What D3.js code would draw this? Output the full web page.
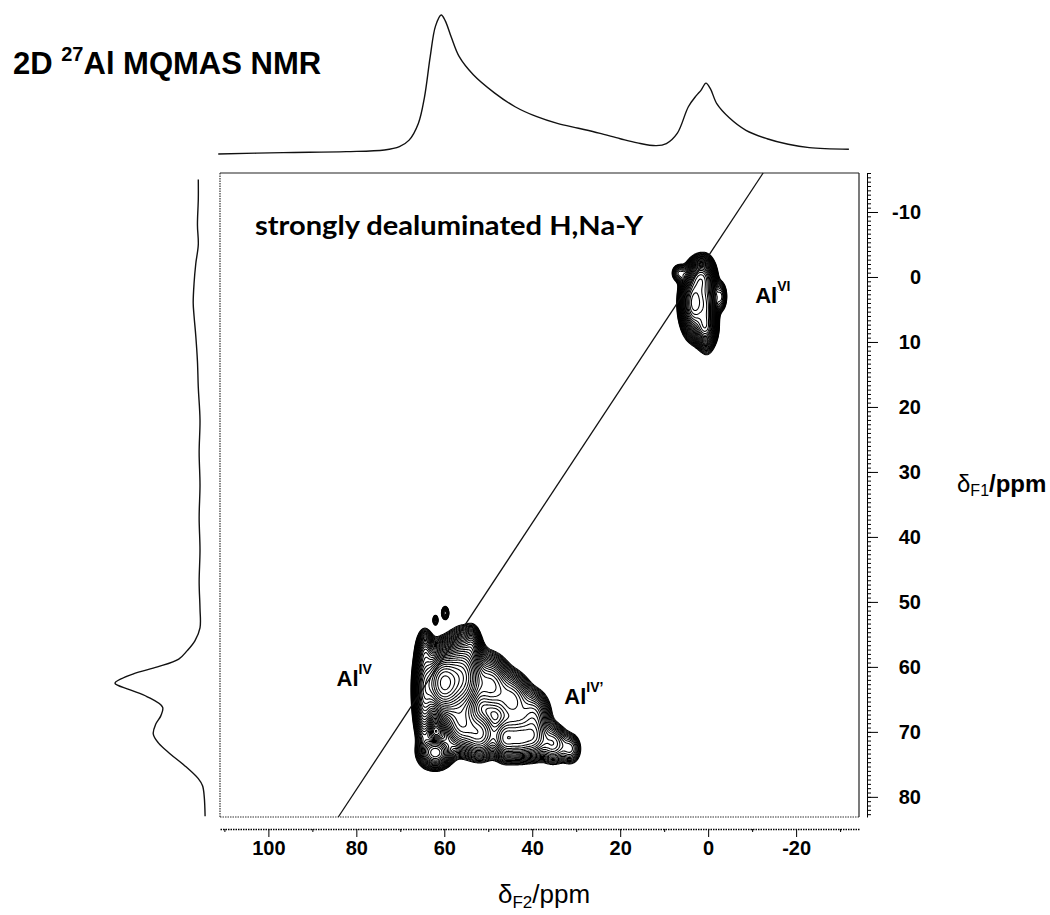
<!DOCTYPE html>
<html>
<head>
<meta charset="utf-8">
<script src="https://cdnjs.cloudflare.com/ajax/libs/d3/7.8.5/d3.min.js"></script>
<style>
  body { margin: 0; background: #fff; }
  svg { display: block; font-family: "Liberation Sans", Arial, sans-serif; }
</style>
</head>
<body>
<svg id="chart" width="1050" height="915"></svg>
<script>
// ---- data ----

// F2 projection (top trace): chemical shift (ppm) and relative intensity
var topPpm = [111.4, 96.6, 82.3, 73.6, 70.2, 68.0, 65.9, 64.5, 63.2, 62.0, 60.7, 59.8, 58.4, 56.6,
              53.4, 48.6, 43.9, 39.1, 34.3, 29.5, 24.8, 20.0, 16.1, 11.8, 9.5, 7.0, 4.5, 2.7, 1.6,
              0.5, -0.5, -2.0, -4.8, -8.6, -13.4, -18.2, -23.0, -32.0];
var topInt = [0, 0.01, 0.017, 0.029, 0.053, 0.10, 0.22, 0.41, 0.70, 0.92, 1.0, 0.96, 0.84, 0.70,
              0.57, 0.44, 0.34, 0.27, 0.22, 0.185, 0.15, 0.11, 0.08, 0.06, 0.075, 0.15, 0.34, 0.42, 0.46,
              0.51, 0.47, 0.36, 0.26, 0.17, 0.11, 0.07, 0.046, 0.034];

// F1 projection (left trace)
var leftPpm = [-15, -12, -8, -5, -2, 1, 4, 6, 9, 13, 17, 22, 27, 32, 37, 42, 47, 51, 54, 56,
               57.5, 58.8, 60.0, 61.1, 62.5, 63.5, 64.6, 66.2, 67.5, 68.8, 70.3, 71.7, 73.4, 75.2,
               77.2, 78.3, 80.0, 83.0];
var leftInt = [0.02, 0.02, 0.03, 0.02, 0.05, 0.07, 0.08, 0.07, 0.05, 0.03, 0.02, 0.0, 0.01, 0.0,
               0.01, 0.0, 0.01, 0.0, 0.0, 0.06, 0.15, 0.25, 0.5, 0.79, 1.0, 0.83, 0.62, 0.44, 0.46,
               0.52, 0.55, 0.49, 0.35, 0.18, 0.02, -0.03, -0.05, -0.06];

// 2D peak components (F2 ppm, F1 ppm, width F2, width F1, amplitude)
var peakName = ["IV main", "IV second", "IV left ridge", "IV stair1", "IV stair2", "IV stair3",
                "IV' a", "IV' b", "IV' c", "IV' d", "IV' e", "IV' f", "IV' g", "IV low-left",
                "IV spike", "IV top-left", "island1", "island2",
                "VI main", "VI right", "VI upper", "VI lower", "VI left lobe", "VI right lobe"];
var peakF2  = [60.2, 55.7, 64.6, 49.5, 44.5, 39.5, 56.3, 51.8, 46.1, 43.0, 39.8, 35.2, 31.2, 62.0,
               53.6, 64.3, 62.0, 59.8, 3.2, 0.3, 1.6, 0.8, 6.6, -2.9];
var peakF1  = [62.5, 61.5, 64.0, 62.8, 65.2, 67.3, 68.8, 70.3, 71.0, 71.0, 70.9, 71.8, 72.6, 73.2,
               56.5, 57.5, 52.8, 51.7, 4.0, 4.6, 0.0, 8.0, -0.6, 3.0];
var peakWF2 = [2.2, 2.2, 1.2, 2.3, 2.3, 2.0, 2.2, 2.2, 1.6, 1.6, 1.8, 1.8, 1.4, 2.0,
               1.0, 1.0, 0.4, 0.5, 1.5, 1.2, 1.5, 1.3, 1.0, 0.8];
var peakWF1 = [2.5, 3.0, 3.8, 2.4, 2.3, 2.0, 2.2, 2.0, 1.8, 1.8, 1.8, 1.7, 1.4, 1.3,
               1.5, 1.5, 0.5, 0.6, 2.4, 3.0, 1.5, 1.3, 0.8, 1.3];
var peakAmp = [1.0, 0.55, 0.3, 0.18, 0.14, 0.11, 0.22, 0.2, 0.19, 0.16, 0.16, 0.1, 0.06, 0.2,
               0.08, 0.1, 0.05, 0.07, 0.55, 0.3, 0.3, 0.2, 0.06, 0.07];

// diagonal (isotropic shift) line endpoints
var diagF2 = [84.1, -12.5];
var diagF1 = [83.1, -16.0];

// axis ticks
var f2Ticks = [100, 80, 60, 40, 20, 0, -20];
var f2Minor = [110, 90, 70, 50, 30, 10, -10, -30];
var f1Ticks = [-10, 0, 10, 20, 30, 40, 50, 60, 70, 80];

// labels
var titleText = ["2D ", "27", "Al MQMAS NMR"];
var sampleText = "strongly dealuminated H,Na-Y";
var siteLabels = [
  {base: "Al", sup: "IV",  f2: 84.5, f1: 62.9},
  {base: "Al", sup: "IV\u2019", f2: 32.7, f1: 65.7},
  {base: "Al", sup: "VI",  f2: -10.7, f1: 4.0}
];

// ---- layout ----
var svg = d3.select("#chart");
var frame = {left: 220, right: 859, top: 173, bottom: 817};

var x = d3.scaleLinear().domain([111, -34.3]).range([frame.left, frame.right]);
var y = d3.scaleLinear().domain([-16, 83.1]).range([frame.top, frame.bottom]);
var topY = d3.scaleLinear().domain([0, 1]).range([154, 15]);
var leftX = d3.scaleLinear().domain([0, 1]).range([200, 115]);

// ---- top projection ----
svg.append("path")
   .datum(d3.range(topPpm.length))
   .attr("d", d3.line().curve(d3.curveCatmullRom)
      .x(function(i) { return x(topPpm[i]); })
      .y(function(i) { return topY(topInt[i]); }))
   .attr("fill", "none")
   .attr("stroke", "#111")
   .attr("stroke-width", 1.4);

// ---- left projection ----
svg.append("path")
   .datum(d3.range(leftPpm.length))
   .attr("d", d3.line().curve(d3.curveCatmullRom)
      .x(function(i) { return leftX(leftInt[i]); })
      .y(function(i) { return y(leftPpm[i]); }))
   .attr("fill", "none")
   .attr("stroke", "#111")
   .attr("stroke-width", 1.4);

// ---- frame ----
svg.append("line").attr("x1", frame.left).attr("x2", frame.right)
   .attr("y1", frame.top).attr("y2", frame.top)
   .attr("stroke", "#222").attr("stroke-width", 1.2);
svg.append("line").attr("x1", frame.right).attr("x2", frame.right)
   .attr("y1", frame.top).attr("y2", frame.bottom)
   .attr("stroke", "#222").attr("stroke-width", 1.2);
svg.append("line").attr("x1", frame.left).attr("x2", frame.left)
   .attr("y1", frame.top).attr("y2", frame.bottom)
   .attr("stroke", "#333").attr("stroke-width", 1.2).attr("stroke-dasharray", "1.5,1");
svg.append("line").attr("x1", frame.left).attr("x2", frame.right)
   .attr("y1", frame.bottom).attr("y2", frame.bottom)
   .attr("stroke", "#333").attr("stroke-width", 1.2).attr("stroke-dasharray", "1.5,1");

// ---- contour field ----
var step = 0.2;
var nx = Math.round((x.domain()[0] - x.domain()[1]) / step) + 1;
var ny = Math.round((y.domain()[1] - y.domain()[0]) / step) + 1;
var grid = new Float64Array(nx * ny);

peakF2.forEach(function(c2, k) {
  var c1 = peakF1[k], w2 = peakWF2[k], w1 = peakWF1[k], a = peakAmp[k];
  var i0 = Math.max(0, Math.floor((x.domain()[0] - (c2 + 5 * w2)) / step));
  var i1 = Math.min(nx - 1, Math.ceil((x.domain()[0] - (c2 - 5 * w2)) / step));
  var j0 = Math.max(0, Math.floor((c1 - 5 * w1 - y.domain()[0]) / step));
  var j1 = Math.min(ny - 1, Math.ceil((c1 + 5 * w1 - y.domain()[0]) / step));
  for (var j = j0; j <= j1; j++) {
    var d1 = (y.domain()[0] + j * step - c1) / w1;
    for (var i = i0; i <= i1; i++) {
      var d2 = (x.domain()[0] - i * step - c2) / w2;
      grid[i + j * nx] += a * Math.exp(-0.5 * (d1 * d1 + d2 * d2));
    }
  }
});

// geometric contour levels
var levels = d3.range(32).map(function(k) { return 0.017 * Math.pow(1.14, k); });
var contours = d3.contours().size([nx, ny]).thresholds(levels)(grid);

var gridToPx = d3.geoTransform({
  point: function(px, py) {
    this.stream.point(x(x.domain()[0] - (px - 0.5) * step), y(y.domain()[0] + (py - 0.5) * step));
  }
});

svg.append("g")
   .attr("class", "contours")
   .selectAll("path")
   .data(contours)
   .join("path")
   .attr("d", d3.geoPath(gridToPx))
   .attr("fill", "none")
   .attr("stroke", "#000")
   .attr("stroke-width", 1.05);

// ---- diagonal ----
svg.append("line")
   .attr("x1", x(diagF2[0])).attr("y1", y(diagF1[0]))
   .attr("x2", x(diagF2[1])).attr("y2", y(diagF1[1]))
   .attr("stroke", "#111").attr("stroke-width", 1.3);

// ---- bottom axis (F2) ----
var xAxisG = svg.append("g").attr("transform", "translate(0,829)");
xAxisG.call(d3.axisBottom(x).tickValues(f2Ticks).tickSize(8).tickSizeOuter(0).tickPadding(4)
      .tickFormat(function(d) { return String(d); }));
xAxisG.append("g").call(d3.axisBottom(x).tickValues(f2Minor).tickSize(3).tickSizeOuter(0)
      .tickFormat(""))
      .select(".domain").remove();
xAxisG.select(".domain").attr("stroke-dasharray", "1.5,1").attr("stroke-width", 1.4);
xAxisG.selectAll("text")
      .attr("font-family", "Liberation Sans, Arial, sans-serif")
      .attr("font-size", 20).attr("font-weight", "bold").attr("fill", "#000");

// ---- right axis (F1) ----
var yAxisG = svg.append("g").attr("transform", "translate(867,0)");
yAxisG.call(d3.axisRight(y).tickValues(f1Ticks).tickSize(11).tickSizeOuter(0)
      .tickFormat(function(d) { return String(d); }));
yAxisG.append("g").call(d3.axisRight(y).tickValues(d3.range(-16, 83.2, 2 / 3)).tickSize(4)
      .tickSizeOuter(0).tickFormat(""))
      .select(".domain").remove();
yAxisG.selectAll("text")
      .attr("x", 54).attr("text-anchor", "end")
      .attr("font-family", "Liberation Sans, Arial, sans-serif")
      .attr("font-size", 20).attr("font-weight", "bold").attr("fill", "#000");

// ---- axis titles ----
var f2Title = svg.append("text").attr("x", 544).attr("y", 903).attr("text-anchor", "middle")
   .attr("font-size", 26);
f2Title.append("tspan").text("\u03b4");
f2Title.append("tspan").attr("font-size", 17).attr("dy", 5).text("F2");
f2Title.append("tspan").attr("dy", -5).text("/ppm");

var f1Title = svg.append("text").attr("x", 957).attr("y", 492).attr("font-size", 24)
   .attr("font-weight", "bold");
f1Title.append("tspan").attr("font-weight", "normal").text("\u03b4");
f1Title.append("tspan").attr("font-weight", "normal").attr("font-size", 16).attr("dy", 4).text("F1");
f1Title.append("tspan").attr("dy", -4).text("/ppm");

// ---- title ----
var title = svg.append("text").attr("x", 13).attr("y", 74)
   .attr("font-size", 31).attr("font-weight", "bold");
title.append("tspan").text(titleText[0]);
title.append("tspan").attr("font-size", 20).attr("dy", -13).text(titleText[1]);
title.append("tspan").attr("dy", 13).text(titleText[2]);

// ---- sample name ----
svg.append("text").attr("x", 255).attr("y", 235)
   .attr("font-family", "Lato, 'Open Sans', sans-serif")
   .attr("font-size", 26).attr("font-weight", "bold")
   .attr("textLength", 388).attr("lengthAdjust", "spacingAndGlyphs")
   .text(sampleText);

// ---- site labels ----
siteLabels.forEach(function(d) {
  var t = svg.append("text").attr("x", x(d.f2)).attr("y", y(d.f1))
     .attr("font-size", 22).attr("font-weight", "bold");
  t.append("tspan").text(d.base);
  t.append("tspan").attr("font-size", 14).attr("dy", -12).text(d.sup);
});
</script>
</body>
</html>
